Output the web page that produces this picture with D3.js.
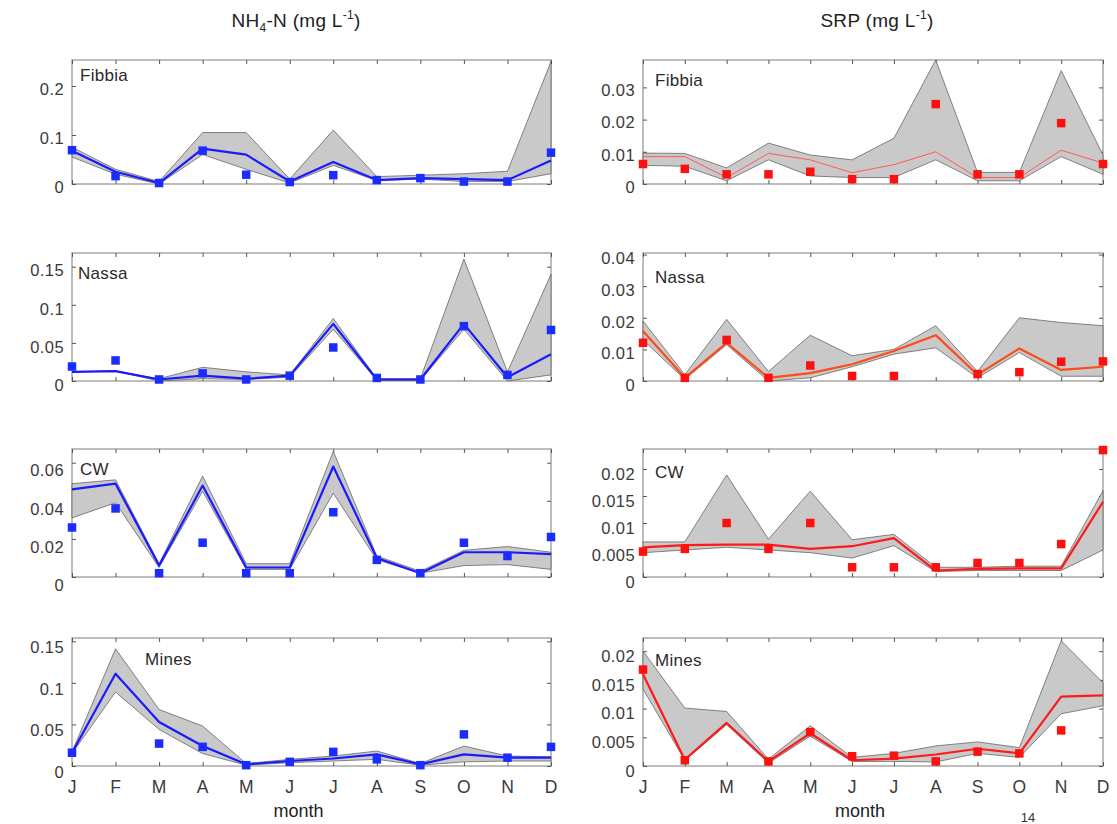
<!DOCTYPE html>
<html>
<head>
<meta charset="utf-8">
<script src="https://cdn.jsdelivr.net/npm/d3@7"></script>
<style>
  html, body { margin: 0; padding: 0; background: #fff; }
  svg { display: block; font-family: "Liberation Sans", Arial, sans-serif; }
</style>
</head>
<body>
<svg id="chart" width="1117" height="824"></svg>
<script>
// ---------------- DATA ----------------
const months = ["J","F","M","A","M","J","J","A","S","O","N","D"];

// NH4-N, Fibbia
const nh4FibbiaLine = [0.068,0.025,0.002,0.072,0.060,0.005,0.045,0.008,0.012,0.010,0.008,0.048];
const nh4FibbiaLow  = [0.055,0.020,0.000,0.060,0.030,0.002,0.038,0.007,0.010,0.005,0.005,0.021];
const nh4FibbiaHigh = [0.075,0.030,0.005,0.105,0.105,0.010,0.110,0.015,0.018,0.021,0.026,0.250];
const nh4FibbiaObs  = [0.069,0.016,0.002,0.068,0.019,0.004,0.018,0.008,0.012,0.005,0.005,0.064];

// NH4-N, Nassa
const nh4NassaLine = [0.012,0.013,0.002,0.007,0.003,0.007,0.075,0.002,0.002,0.075,0.005,0.035];
const nh4NassaLow  = [0.012,0.013,0.000,0.003,0.002,0.005,0.068,0.001,0.001,0.068,0.000,0.008];
const nh4NassaHigh = [0.012,0.013,0.003,0.018,0.012,0.008,0.082,0.003,0.003,0.160,0.012,0.140];
const nh4NassaObs  = [0.019,0.027,0.002,0.010,0.002,0.007,0.044,0.004,0.002,0.072,0.008,0.067];

// NH4-N, CW
const nh4CWLine = [0.046,0.049,0.006,0.048,0.005,0.005,0.058,0.010,0.002,0.013,0.013,0.012];
const nh4CWLow  = [0.031,0.039,0.005,0.045,0.004,0.004,0.044,0.009,0.002,0.006,0.0065,0.004];
const nh4CWHigh = [0.049,0.051,0.007,0.053,0.007,0.007,0.066,0.011,0.003,0.014,0.016,0.013];
const nh4CWObs  = [0.026,0.036,0.002,0.018,0.002,0.002,0.034,0.009,0.002,0.018,0.011,0.021];

// NH4-N, Mines
const nh4MinesLine = [0.016,0.111,0.053,0.024,0.002,0.006,0.009,0.014,0.002,0.014,0.010,0.010];
const nh4MinesLow  = [0.015,0.089,0.044,0.015,0.001,0.004,0.006,0.008,0.001,0.005,0.006,0.006];
const nh4MinesHigh = [0.017,0.141,0.068,0.048,0.003,0.008,0.012,0.018,0.003,0.024,0.012,0.011];
const nh4MinesObs  = [0.016,null,0.027,0.023,0.001,0.005,0.017,0.008,0.001,0.038,0.010,0.023];

// SRP, Fibbia
const srpFibbiaLine = [0.0085,0.0085,0.002,0.0095,0.0075,0.0035,0.006,0.0100,0.002,0.002,0.0105,0.0065];
const srpFibbiaLow  = [0.0058,0.0055,0.001,0.0075,0.0025,0.002,0.002,0.0075,0.001,0.001,0.0085,0.003];
const srpFibbiaHigh = [0.0096,0.0095,0.005,0.0127,0.009,0.0075,0.0142,0.0385,0.0036,0.0036,0.0352,0.009];
const srpFibbiaObs  = [0.0062,0.0047,0.003,0.003,0.0038,0.0015,0.0015,0.0248,0.003,0.003,0.0189,0.0062];

// SRP, Nassa
const srpNassaLine = [0.0158,0.0010,0.0121,0.0010,0.0025,0.0053,0.0095,0.0145,0.0020,0.0103,0.0035,0.0045];
const srpNassaLow  = [0.0130,0.0005,0.0115,0.0000,0.0010,0.0045,0.0085,0.0105,0.0010,0.0090,0.0015,0.0015];
const srpNassaHigh = [0.0190,0.0020,0.0195,0.0030,0.0145,0.0080,0.0100,0.0175,0.0030,0.0200,0.0185,0.0175];
const srpNassaObs  = [0.0121,0.0010,0.0130,0.0010,0.0049,0.0016,0.0016,null,0.0022,0.0028,0.0061,0.0062];

// SRP, CW
const srpCWLine = [0.0055,0.0059,0.0060,0.0060,0.0052,0.0057,0.0072,0.0012,0.0015,0.0016,0.0016,0.0139];
const srpCWLow  = [0.0045,0.0050,0.0055,0.0050,0.0045,0.0035,0.0058,0.0010,0.0012,0.0012,0.0012,0.0050];
const srpCWHigh = [0.0065,0.0065,0.0189,0.0070,0.0159,0.0069,0.0079,0.0018,0.0018,0.0020,0.0020,0.0160];
const srpCWObs  = [0.0047,0.0052,0.0100,0.0052,0.0100,0.0018,0.0018,0.0018,0.0026,0.0026,0.0061,0.0235];

// SRP, Mines
const srpMinesLine = [0.0160,0.0011,0.0075,0.0008,0.0057,0.0010,0.0013,0.0020,0.0030,0.0022,0.0121,0.0123];
const srpMinesLow  = [0.0134,0.0010,0.0072,0.0005,0.0052,0.0008,0.0008,0.0007,0.0022,0.0015,0.0091,0.0105];
const srpMinesHigh = [0.0200,0.0101,0.0095,0.0012,0.0070,0.0015,0.0022,0.0035,0.0042,0.0032,0.0218,0.0145];
const srpMinesObs  = [0.0168,0.0010,null,0.0008,0.0059,0.0017,0.0018,0.0008,0.0025,0.0022,0.0062,null];

// axis tick values
const ticksNH4Fibbia = [0, 0.1, 0.2];
const ticksNH4Nassa  = [0, 0.05, 0.1, 0.15];
const ticksNH4CW     = [0, 0.02, 0.04, 0.06];
const ticksNH4Mines  = [0, 0.05, 0.1, 0.15];
const ticksSRPFibbia = [0, 0.01, 0.02, 0.03];
const ticksSRPNassa  = [0, 0.01, 0.02, 0.03, 0.04];
const ticksSRPCW     = [0, 0.005, 0.01, 0.015, 0.02];
const ticksSRPMines  = [0, 0.005, 0.01, 0.015, 0.02];

const sites = ["Fibbia", "Nassa", "CW", "Mines"];

// ---------------- LAYOUT ----------------
const svg = d3.select("#chart");
const cols = [
  {x0: 72,  x1: 551, mark: "#1a2cff", line: "#1a1aff"},
  {x0: 643, x1: 1103, mark: "#ff1010", line: "#ff1a1a"}
];
const rows = [
  {top: 60,  bottom: 184},
  {top: 253, bottom: 381},
  {top: 449, bottom: 577},
  {top: 638, bottom: 766}
];

const panels = [
  {col:0,row:0,line:nh4FibbiaLine,low:nh4FibbiaLow,high:nh4FibbiaHigh,obs:nh4FibbiaObs,ymax:0.253,ticks:ticksNH4Fibbia,ldy:3,lab:[8,21]},
  {col:0,row:1,line:nh4NassaLine,low:nh4NassaLow,high:nh4NassaHigh,obs:nh4NassaObs,ymax:0.168,ticks:ticksNH4Nassa,ldy:4,lab:[6,26]},
  {col:0,row:2,line:nh4CWLine,low:nh4CWLow,high:nh4CWHigh,obs:nh4CWObs,ymax:0.0672,ticks:ticksNH4CW,ldy:8,lab:[8,26]},
  {col:0,row:3,line:nh4MinesLine,low:nh4MinesLow,high:nh4MinesHigh,obs:nh4MinesObs,ymax:0.154,ticks:ticksNH4Mines,ldy:6,lab:[73,27]},
  {col:1,row:0,line:srpFibbiaLine,low:srpFibbiaLow,high:srpFibbiaHigh,obs:srpFibbiaObs,ymax:0.0385,ticks:ticksSRPFibbia,ldy:3,lab:[12,26],thin:true},
  {col:1,row:1,line:srpNassaLine,low:srpNassaLow,high:srpNassaHigh,obs:srpNassaObs,ymax:0.0405,ticks:ticksSRPNassa,ldy:4,lab:[12,30],lineColor:"#ff4a1a"},
  {col:1,row:2,line:srpCWLine,low:srpCWLow,high:srpCWHigh,obs:srpCWObs,ymax:0.0237,ticks:ticksSRPCW,ldy:5,lab:[12,29]},
  {col:1,row:3,line:srpMinesLine,low:srpMinesLow,high:srpMinesHigh,obs:srpMinesObs,ymax:0.0223,ticks:ticksSRPMines,ldy:5,lab:[12,28]}
];

const fmt = v => v === 0 ? "0" : String(+v.toFixed(4));
const txtColor = "#3a3a3a";

panels.forEach((p) => {
  const c = cols[p.col], r = rows[p.row];
  const x = d3.scalePoint().domain(d3.range(12)).range([c.x0, c.x1]);
  const y = d3.scaleLinear().domain([0, p.ymax]).range([r.bottom, r.top]);
  const g = svg.append("g");

  // box
  g.append("rect").attr("x", c.x0).attr("y", r.top)
    .attr("width", c.x1 - c.x0).attr("height", r.bottom - r.top)
    .attr("fill", "none").attr("stroke", "#9a9a9a").attr("stroke-width", 1.3);

  // ticks (inward) on left, right, top, bottom
  const tl = g.append("g").attr("transform", `translate(${c.x0},0)`)
    .call(d3.axisLeft(y).tickValues(p.ticks).tickSize(-4).tickFormat(""));
  const tr = g.append("g").attr("transform", `translate(${c.x1},0)`)
    .call(d3.axisRight(y).tickValues(p.ticks).tickSize(-4).tickFormat(""));
  const tt = g.append("g").attr("transform", `translate(0,${r.top})`)
    .call(d3.axisTop(x).tickSize(-4).tickFormat(""));
  const tb = g.append("g").attr("transform", `translate(0,${r.bottom})`)
    .call(d3.axisBottom(x).tickSize(-4).tickFormat(""));
  [tl, tr, tt, tb].forEach(a => {
    a.select(".domain").remove();
    a.selectAll(".tick line").attr("stroke", "#555").attr("stroke-width", 1);
  });

  // y tick labels
  g.selectAll("text.ylab").data(p.ticks).enter().append("text")
    .attr("class", "ylab")
    .attr("x", c.x0 - 8).attr("y", d => y(d) + p.ldy)
    .attr("dy", "0.35em").attr("text-anchor", "end")
    .attr("font-size", 16.5).attr("letter-spacing", 0.4).attr("fill", txtColor)
    .text(fmt);

  // month labels bottom row
  if (p.row === 3) {
    g.selectAll("text.xlab").data(d3.range(12)).enter().append("text")
      .attr("class", "xlab")
      .attr("x", d => x(d)).attr("y", r.bottom + 27)
      .attr("text-anchor", "middle").attr("font-size", 17.5).attr("fill", txtColor)
      .text(d => months[d]);
    g.append("text").attr("x", (c.x0 + c.x1) / 2 - 13).attr("y", r.bottom + 51)
      .attr("text-anchor", "middle").attr("font-size", 18).attr("fill", "#222")
      .text("month");
  }

  // band
  const idx = d3.range(12);
  g.append("path").datum(idx)
    .attr("d", d3.area().x(i => x(i)).y0(i => y(p.low[i])).y1(i => y(p.high[i])))
    .attr("fill", "#c9c9c9").attr("stroke", "#555").attr("stroke-width", 0.7)
    .attr("stroke-linejoin", "round");

  // model line
  g.append("path").datum(idx)
    .attr("d", d3.line().x(i => x(i)).y(i => y(p.line[i])))
    .attr("fill", "none")
    .attr("stroke", p.lineColor || (p.thin ? "#ff5a5a" : c.line))
    .attr("stroke-width", p.thin ? 1 : 2.2)
    .attr("stroke-linejoin", "round");

  // observations
  const sz = 8.5;
  g.selectAll("rect.obs").data(idx.filter(i => p.obs[i] != null)).enter().append("rect")
    .attr("class", "obs")
    .attr("x", i => x(i) - sz / 2).attr("y", i => y(p.obs[i]) - sz / 2)
    .attr("width", sz).attr("height", sz)
    .attr("fill", c.mark);

  // site label
  g.append("text").attr("x", c.x0 + p.lab[0]).attr("y", r.top + p.lab[1])
    .attr("font-size", 17).attr("letter-spacing", 0.3).attr("fill", "#2a2a2a").text(sites[p.row]);
});

// column titles
const t1 = svg.append("text").attr("x", 296).attr("y", 27)
  .attr("text-anchor", "middle").attr("font-size", 19).attr("letter-spacing", 0.3).attr("fill", "#222");
t1.append("tspan").text("NH");
t1.append("tspan").attr("font-size", 12).attr("dy", 5).text("4");
t1.append("tspan").attr("dy", -5).text("-N (mg L");
t1.append("tspan").attr("font-size", 12).attr("dy", -8).text("-1");
t1.append("tspan").attr("dy", 8).text(")");

const t2 = svg.append("text").attr("x", 877).attr("y", 27)
  .attr("text-anchor", "middle").attr("font-size", 19).attr("letter-spacing", 0.3).attr("fill", "#222");
t2.append("tspan").text("SRP (mg L");
t2.append("tspan").attr("font-size", 12).attr("dy", -8).text("-1");
t2.append("tspan").attr("dy", 8).text(")");

// page number (cut in the source scan)
svg.append("text").attr("x", 1028).attr("y", 822).attr("text-anchor", "middle")
  .attr("font-size", 13).attr("fill", "#333").text("14");
</script>
</body>
</html>
